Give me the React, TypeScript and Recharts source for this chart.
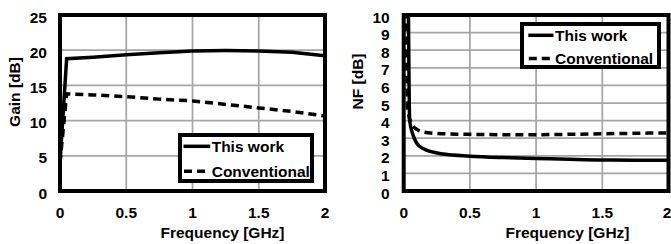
import React from "react";
import {
	LineChart,
	Line,
	XAxis,
	YAxis,
	CartesianGrid,
	ReferenceArea,
	Legend,
} from "recharts";

// ---- data ----
const freqTicks = [0, 0.5, 1, 1.5, 2];
const gainTicks = [0, 5, 10, 15, 20, 25];
const nfTicks = [0, 1, 2, 3, 4, 5, 6, 7, 8, 9, 10];
const seriesNames = ["This work", "Conventional"];

const gainFreq = [0, 0.05, 0.25, 0.5, 0.75, 1, 1.25, 1.5, 1.75, 2];
const gainThisWork = [4, 18.8, 19.0, 19.35, 19.65, 19.9, 19.95, 19.9, 19.7, 19.2];
const gainConventional = [4, 13.8, 13.65, 13.4, 13.05, 12.8, 12.3, 11.8, 11.3, 10.65];

const nfFreqThisWork = [0.035, 0.045, 0.07, 0.1, 0.15, 0.2, 0.3, 0.5, 0.75, 1, 1.25, 1.5, 1.75, 2];
const nfThisWork = [11, 4.0, 3.2, 2.7, 2.4, 2.25, 2.1, 1.98, 1.9, 1.85, 1.8, 1.76, 1.75, 1.75];
const nfFreqConventional = [0.02, 0.03, 0.06, 0.1, 0.15, 0.25, 0.5, 0.75, 1, 1.25, 1.5, 1.75, 2];
const nfConventional = [11, 4.7, 3.8, 3.5, 3.35, 3.27, 3.22, 3.2, 3.2, 3.22, 3.25, 3.28, 3.3];

const gainData = gainFreq.map((f, i) => ({
	f,
	tw: gainThisWork[i],
	conv: gainConventional[i],
}));
const nfDataThisWork = nfFreqThisWork.map((f, i) => ({ f, v: nfThisWork[i] }));
const nfDataConventional = nfFreqConventional.map((f, i) => ({ f, v: nfConventional[i] }));

const FONT = "'Liberation Sans', Arial, sans-serif";
const fontStyle = { fontFamily: FONT, fontWeight: 700, fontSize: 15.5, fill: "#000" };
const GRID = "#a6a6a6";

const yTitle = (text: string, cx: number, cy: number) => ({
	value: text,
	content: () => (
		<text
			x={cx}
			y={cy}
			transform={`rotate(-90 ${cx} ${cy})`}
			textAnchor='middle'
			dominantBaseline='central'
			style={fontStyle}>
			{text}
		</text>
	),
});

const xTitle = (text: string, cx: number, cy: number) => ({
	value: text,
	content: () => (
		<text x={cx} y={cy} textAnchor='middle' dominantBaseline='central' style={fontStyle}>
			{text}
		</text>
	),
});

// legend frame drawn like the Excel box: thick border, short sample line, bold label
const LegendBox = ({
	w,
	h,
	rows,
	sampleX,
	textX,
}: {
	w: number;
	h: number;
	rows: number[];
	sampleX: number;
	textX: number;
}) => (
	<div
		style={{
			position: "relative",
			width: w,
			height: h,
			boxSizing: "border-box",
			border: "4px solid #000",
			background: "#fff",
		}}>
		<svg width={w} height={h} style={{ position: "absolute", left: -4, top: -4 }}>
			{seriesNames.map((name, i) => (
				<g key={name}>
					<line
						x1={i === 1 ? sampleX + 0.5 : sampleX}
						x2={i === 1 ? textX - 5 : textX - 1.5}
						y1={rows[i]}
						y2={rows[i]}
						stroke='#000'
						strokeWidth={3.5}
						strokeDasharray={i === 1 ? "8 5" : undefined}
					/>
					<text x={textX} y={rows[i]} dominantBaseline='central' style={fontStyle}>
						{name}
					</text>
				</g>
			))}
		</svg>
	</div>
);

export default function App() {
	return (
		<div
			style={{
				position: "absolute",
				left: 0,
				top: 0,
				width: 671,
				height: 244,
				background: "#fff",
				overflow: "hidden",
			}}>
			<div style={{ position: "absolute", left: 0, top: 0 }}>
				<LineChart
					width={335}
					height={244}
					data={gainData}
					margin={{ top: 15, right: 10, bottom: 0, left: 0 }}>
					<CartesianGrid stroke={GRID} strokeWidth={1.75} />
					<XAxis
						dataKey='f'
						type='number'
						domain={[0, 2]}
						ticks={freqTicks}
						height={53}
						tick={fontStyle}
						tickLine={false}
						axisLine={false}
						tickSize={0}
						tickMargin={16}
						label={xTitle("Frequency [GHz]", 222.5, 232.5)}
					/>
					<YAxis
						type='number'
						domain={[0, 25]}
						ticks={gainTicks}
						width={60}
						tick={{ ...fontStyle, dy: 2 }}
						tickLine={false}
						axisLine={false}
						tickSize={0}
						tickMargin={13}
						label={yTitle("Gain [dB]", 14, 92)}
					/>
					<ReferenceArea x1={0} x2={2} y1={0} y2={25} fill='none' stroke='#000' strokeWidth={4} />
					<Line
						dataKey='tw'
						name={seriesNames[0]}
						stroke='#000'
						strokeWidth={3.5}
						dot={false}
						type='linear'
						isAnimationActive={false}
					/>
					<Line
						dataKey='conv'
						name={seriesNames[1]}
						stroke='#000'
						strokeWidth={3.5}
						strokeDasharray='8 5'
						dot={false}
						type='linear'
						isAnimationActive={false}
					/>
					<Legend
						layout='horizontal'
						verticalAlign='middle'
						align='center'
						wrapperStyle={{ left: 178, top: 133, width: 136, height: 50 }}
						content={() => (
							<LegendBox w={136} h={50} rows={[13.3, 38.3]} sampleX={5.5} textX={33.7} />
						)}
					/>
				</LineChart>
			</div>
			<div style={{ position: "absolute", left: 336, top: 0 }}>
				<LineChart width={335} height={244} margin={{ top: 15, right: 2.5, bottom: 0, left: 0 }}>
					<CartesianGrid stroke={GRID} strokeWidth={1.75} />
					<XAxis
						dataKey='f'
						type='number'
						domain={[0, 2]}
						ticks={freqTicks}
						height={53}
						tick={fontStyle}
						tickLine={false}
						axisLine={false}
						tickSize={0}
						tickMargin={16}
						label={xTitle("Frequency [GHz]", 231.5, 232.5)}
					/>
					<YAxis
						type='number'
						domain={[0, 10]}
						ticks={nfTicks}
						allowDataOverflow
						width={67.7}
						tick={{ ...fontStyle, dy: 2 }}
						tickLine={false}
						axisLine={false}
						tickSize={0}
						tickMargin={14}
						interval={0}
						label={yTitle("NF [dB]", 21.7, 81.5)}
					/>
					<ReferenceArea x1={0} x2={2} y1={0} y2={10} fill='none' stroke='#000' strokeWidth={4} />
					<Line
						data={nfDataThisWork}
						dataKey='v'
						name={seriesNames[0]}
						stroke='#000'
						strokeWidth={3.5}
						dot={false}
						type='monotone'
						isAnimationActive={false}
					/>
					<Line
						data={nfDataConventional}
						dataKey='v'
						name={seriesNames[1]}
						stroke='#000'
						strokeWidth={3.5}
						strokeDasharray='8 5'
						dot={false}
						type='monotone'
						isAnimationActive={false}
					/>
					<Legend
						layout='horizontal'
						verticalAlign='middle'
						align='center'
						wrapperStyle={{ left: 184, top: 22, width: 141, height: 47 }}
						content={() => (
							<LegendBox w={141} h={47} rows={[13.3, 36.6]} sampleX={8.3} textX={35} />
						)}
					/>
				</LineChart>
			</div>
		</div>
	);
}
